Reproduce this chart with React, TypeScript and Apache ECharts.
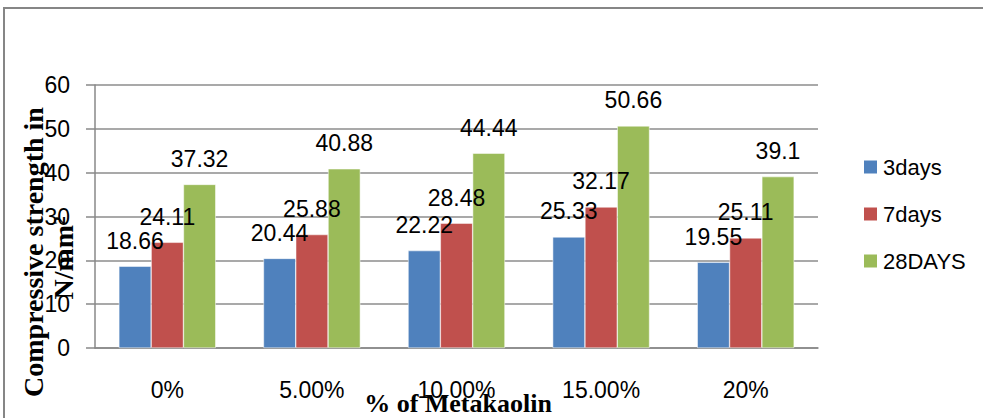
import React, { useEffect, useRef } from "react";
import * as echarts from "echarts";

const categories = ["0%", "5.00%", "10.00%", "15.00%", "20%"];
const days3 = [18.66, 20.44, 22.22, 25.33, 19.55];
const days7 = [24.11, 25.88, 28.48, 32.17, 25.11];
const days28 = [37.32, 40.88, 44.44, 50.66, 39.1];
const seriesNames = ["3days", "7days", "28DAYS"];
const colors = ["#4F81BD", "#C0504D", "#9BBB59"];

const SANS = "'Liberation Sans', Arial, sans-serif";
const SERIF = "'Liberation Serif', 'Times New Roman', serif";

export default function App() {
  const ref = useRef<HTMLDivElement>(null);
  useEffect(() => {
    document.body.style.margin = "0";
    const chart = echarts.init(ref.current!, null, { renderer: "svg" });
    const data = [days3, days7, days28];
    chart.setOption({
      animation: false,
      backgroundColor: "#ffffff",
      grid: { left: 95, right: 165, top: 85, bottom: 70 },
      legend: {
        orient: "vertical",
        left: 862,
        top: 156,
        padding: 0,
        itemWidth: 15,
        itemHeight: 15,
        itemGap: 25,
        icon: "rect",
        textStyle: { fontSize: 22, fontFamily: SANS, color: "#000" },
        data: seriesNames,
      },
      xAxis: {
        type: "category",
        data: categories,
        axisLine: { lineStyle: { color: "#888", width: 1.5 } },
        axisTick: { length: 7, lineStyle: { color: "#888", width: 1.5 } },
        axisLabel: { fontSize: 23, fontFamily: SANS, color: "#000", margin: 30 },
      },
      yAxis: {
        type: "value",
        min: 0,
        max: 60,
        interval: 10,
        axisLine: { show: true, lineStyle: { color: "#888", width: 1.5 } },
        axisTick: { show: true, length: 9, lineStyle: { color: "#888", width: 1.5 } },
        splitLine: { lineStyle: { color: "#8c8c8c", width: 1.5 } },
        axisLabel: { fontSize: 23, fontFamily: SANS, color: "#000", margin: 25 },
      },
      series: seriesNames.map((n, i) => ({
        name: n,
        type: "bar",
        data: data[i],
        barGap: "0%",
        barCategoryGap: "33%",
        itemStyle: { color: colors[i], borderColor: "#ffffff", borderWidth: 0.5 },
        label: {
          show: true,
          position: "top",
          distance: 14,
          fontSize: 23,
          fontFamily: SANS,
          color: "#000",
        },
      })),
      graphic: [
        {
          type: "rect",
          shape: { x: 4, y: 8, width: 1100, height: 600 },
          style: { fill: "none", stroke: "#868686", lineWidth: 2 },
          silent: true,
        },
        {
          type: "text",
          x: 33,
          y: 252,
          rotation: Math.PI / 2,
          style: {
            text: "Compressive strength in",
            font: `bold 28px ${SERIF}`,
            fill: "#000",
            textAlign: "center",
            textVerticalAlign: "middle",
          },
          z: 100,
        },
        {
          type: "text",
          x: 63,
          y: 258,
          rotation: Math.PI / 2,
          style: {
            text: "N/mm²",
            font: `bold 28px ${SERIF}`,
            fill: "#000",
            textAlign: "center",
            textVerticalAlign: "middle",
          },
          z: 100,
        },
        {
          type: "text",
          x: 458,
          y: 403,
          style: {
            text: "% of Metakaolin",
            font: `bold 26px ${SERIF}`,
            fill: "#000",
            textAlign: "center",
            textVerticalAlign: "middle",
          },
          z: 100,
        },
      ],
    });
    return () => chart.dispose();
  }, []);
  return <div ref={ref} style={{ width: 983, height: 418 }} />;
}
